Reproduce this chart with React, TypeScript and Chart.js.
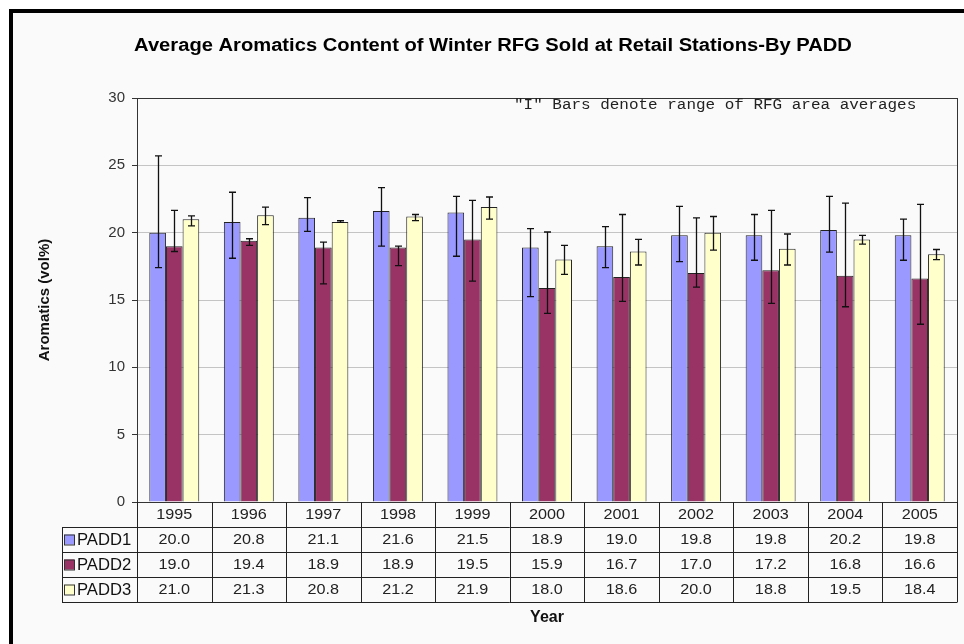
import React, { useEffect, useRef } from 'react';
import { Chart, registerables } from 'chart.js';
Chart.register(...registerables);

const years = ['1995', '1996', '1997', '1998', '1999', '2000', '2001', '2002', '2003', '2004', '2005'];
const seriesNames = ['PADD1', 'PADD2', 'PADD3'];
const padd1 = [20.0, 20.8, 21.1, 21.6, 21.5, 18.9, 19.0, 19.8, 19.8, 20.2, 19.8];
const padd2 = [19.0, 19.4, 18.9, 18.9, 19.5, 15.9, 16.7, 17.0, 17.2, 16.8, 16.6];
const padd3 = [21.0, 21.3, 20.8, 21.2, 21.9, 18.0, 18.6, 20.0, 18.8, 19.5, 18.4];
const padd1Low = [17.4, 18.1, 20.1, 19.0, 18.25, 15.25, 17.4, 17.85, 17.95, 18.55, 17.95];
const padd1High = [25.7, 23.0, 22.6, 23.35, 22.7, 20.3, 20.45, 21.95, 21.35, 22.7, 21.0];
const padd2Low = [18.6, 19.05, 16.2, 17.55, 16.4, 14.0, 14.9, 15.95, 14.75, 14.5, 13.2];
const padd2High = [21.65, 19.55, 19.3, 19.0, 22.4, 20.05, 21.35, 21.1, 21.65, 22.2, 22.1];
const padd3Low = [20.5, 20.6, 20.77, 20.9, 21.0, 16.9, 17.6, 18.7, 17.6, 19.15, 18.0];
const padd3High = [21.25, 21.9, 20.9, 21.35, 22.65, 19.05, 19.5, 21.2, 19.9, 19.8, 18.75];
const yTicks = [0, 5, 10, 15, 20, 25, 30];

const titleText = 'Average Aromatics Content of Winter RFG Sold at Retail Stations-By PADD';
const noteText = '"I" Bars denote range of RFG area averages';
const yTitle = 'Aromatics (vol%)';
const xTitle = 'Year';

const colors = ['#9999FF', '#993366', '#FFFFCC'];
const seriesValues = [padd1, padd2, padd3];
const seriesLow = [padd1Low, padd2Low, padd3Low];
const seriesHigh = [padd1High, padd2High, padd3High];

function txt(ctx: CanvasRenderingContext2D, s: string, x: number, y: number, align: CanvasTextAlign, font: string, color: string, sx = 1) {
  ctx.save();
  ctx.font = font;
  ctx.fillStyle = color;
  ctx.textAlign = align;
  ctx.textBaseline = 'middle';
  ctx.translate(x, y);
  ctx.scale(sx, 1);
  ctx.fillText(s, 0, 0);
  ctx.restore();
}

const decorPlugin = {
  id: 'decor',
  beforeDraw(chart: any) {
    const ctx = chart.ctx as CanvasRenderingContext2D;
    ctx.save();
    ctx.fillStyle = '#ffffff';
    ctx.fillRect(0, 0, chart.width, chart.height);
    ctx.fillStyle = '#fafafa';
    ctx.fillRect(13, 13, chart.width - 13, chart.height - 13);
    ctx.fillStyle = '#000000';
    ctx.fillRect(9, 9, chart.width - 9, 4);
    ctx.fillRect(9, 9, 4, chart.height - 9);
    ctx.restore();
  },
  afterDatasetsDraw(chart: any) {
    const ctx = chart.ctx as CanvasRenderingContext2D;
    const ys = chart.scales.y;
    ctx.save();
    ctx.strokeStyle = '#111';
    ctx.lineWidth = 1.3;
    for (let d = 0; d < 3; d++) {
      const meta = chart.getDatasetMeta(d);
      meta.data.forEach((bar: any, i: number) => {
        const x = Math.round(bar.x) + 0.5;
        const yh = ys.getPixelForValue(seriesHigh[d][i]);
        const yl = ys.getPixelForValue(seriesLow[d][i]);
        ctx.beginPath();
        ctx.moveTo(x, yh);
        ctx.lineTo(x, yl);
        ctx.moveTo(x - 3.5, yh);
        ctx.lineTo(x + 3.5, yh);
        ctx.moveTo(x - 3.5, yl);
        ctx.lineTo(x + 3.5, yl);
        ctx.stroke();
      });
    }
    ctx.restore();
  },
  afterDraw(chart: any) {
    const ctx = chart.ctx as CanvasRenderingContext2D;
    const a = chart.chartArea;
    const xs = chart.scales.x;
    ctx.save();
    // plot box
    ctx.strokeStyle = '#333';
    ctx.lineWidth = 1;
    ctx.strokeRect(Math.round(a.left) + 0.5, Math.round(a.top) + 0.5, Math.round(a.right - a.left), Math.round(a.bottom - a.top));

    // title
    txt(ctx, titleText, 493, 46, 'center', 'bold 18px Arial, "Liberation Sans", sans-serif', '#000', 1.12);
    // note
    txt(ctx, noteText, 514, 105, 'left', '14px "Liberation Mono", "Courier New", monospace', '#222', 1.14);
    // y title
    ctx.save();
    ctx.translate(45, 300);
    ctx.rotate(-Math.PI / 2);
    txt(ctx, yTitle, 0, 0, 'center', 'bold 15px Arial, "Liberation Sans", sans-serif', '#111', 1);
    ctx.restore();

    // data table
    const n = years.length;
    const bounds: number[] = [];
    for (let i = 0; i <= n; i++) {
      if (i === 0) bounds.push(a.left);
      else if (i === n) bounds.push(a.right);
      else bounds.push((xs.getPixelForValue(i - 1) + xs.getPixelForValue(i)) / 2);
    }
    const headTop = a.bottom;
    const rowH = 25;
    const headBottom = headTop + 25;
    const tableLeft = 62;
    const tableBottom = headBottom + rowH * 3;
    ctx.strokeStyle = '#222';
    ctx.lineWidth = 1;
    ctx.beginPath();
    for (let i = 0; i <= n; i++) {
      const x = Math.round(bounds[i]) + 0.5;
      ctx.moveTo(x, headTop);
      ctx.lineTo(x, tableBottom);
    }
    ctx.moveTo(tableLeft + 0.5, headBottom);
    ctx.lineTo(tableLeft + 0.5, tableBottom);
    for (let r = 0; r <= 3; r++) {
      const y = Math.round(headBottom + r * rowH) + 0.5;
      ctx.moveTo(tableLeft, y);
      ctx.lineTo(a.right + 0.5, y);
    }
    ctx.stroke();
    const valFont = '15px Arial, "Liberation Sans", sans-serif';
    for (let i = 0; i < n; i++) {
      const cx = (bounds[i] + bounds[i + 1]) / 2;
      txt(ctx, years[i], cx, headTop + 13, 'center', valFont, '#222', 1.08);
      for (let r = 0; r < 3; r++) {
        txt(ctx, seriesValues[r][i].toFixed(1), cx, headBottom + r * rowH + 13, 'center', valFont, '#222', 1.08);
      }
    }
    for (let r = 0; r < 3; r++) {
      const cy = headBottom + r * rowH + 12.5;
      ctx.fillStyle = colors[r];
      ctx.fillRect(64, cy - 5, 10, 10);
      ctx.strokeStyle = '#333';
      ctx.strokeRect(64.5, cy - 4.5, 10, 10);
      txt(ctx, seriesNames[r], 77, cy + 1, 'left', '16px Arial, "Liberation Sans", sans-serif', '#111', 1.04);
    }
    // x title
    txt(ctx, xTitle, 547, 618, 'center', 'bold 16px Arial, "Liberation Sans", sans-serif', '#111', 1);
    ctx.restore();
  },
};

export default function App() {
  const ref = useRef<HTMLCanvasElement>(null);
  useEffect(() => {
    if (!ref.current) return;
    const chart = new Chart(ref.current, {
      type: 'bar',
      data: {
        labels: years,
        datasets: seriesValues.map((vals, i) => ({
          label: seriesNames[i],
          data: vals,
          backgroundColor: colors[i],
          borderColor: '#222',
          borderWidth: 1,
          categoryPercentage: 0.67,
          barPercentage: 1.0,
        })),
      },
      options: {
        responsive: false,
        animation: false,
        layout: { padding: { left: 0, top: 98, right: 7, bottom: 142 } },
        plugins: { legend: { display: false }, title: { display: false }, tooltip: { enabled: false } },
        scales: {
          x: { display: false },
          y: {
            min: 0,
            max: 30,
            afterBuildTicks: (s: any) => { s.ticks = yTicks.map((v) => ({ value: v })); },
            afterFit: (s: any) => { s.width = 137; },
            ticks: { font: { size: 15, family: 'Arial, "Liberation Sans", sans-serif' }, color: '#333', padding: 7 },
            grid: { color: '#c4c4c4', tickColor: '#333', tickLength: 5 },
            border: { display: false },
          },
        },
      },
      plugins: [decorPlugin],
    } as any);
    return () => chart.destroy();
  }, []);
  return (
    <div style={{ position: 'fixed', left: 0, top: 0, width: 964, height: 644 }}>
      <canvas ref={ref} width={964} height={644} style={{ display: 'block', width: 964, height: 644 }} />
    </div>
  );
}
